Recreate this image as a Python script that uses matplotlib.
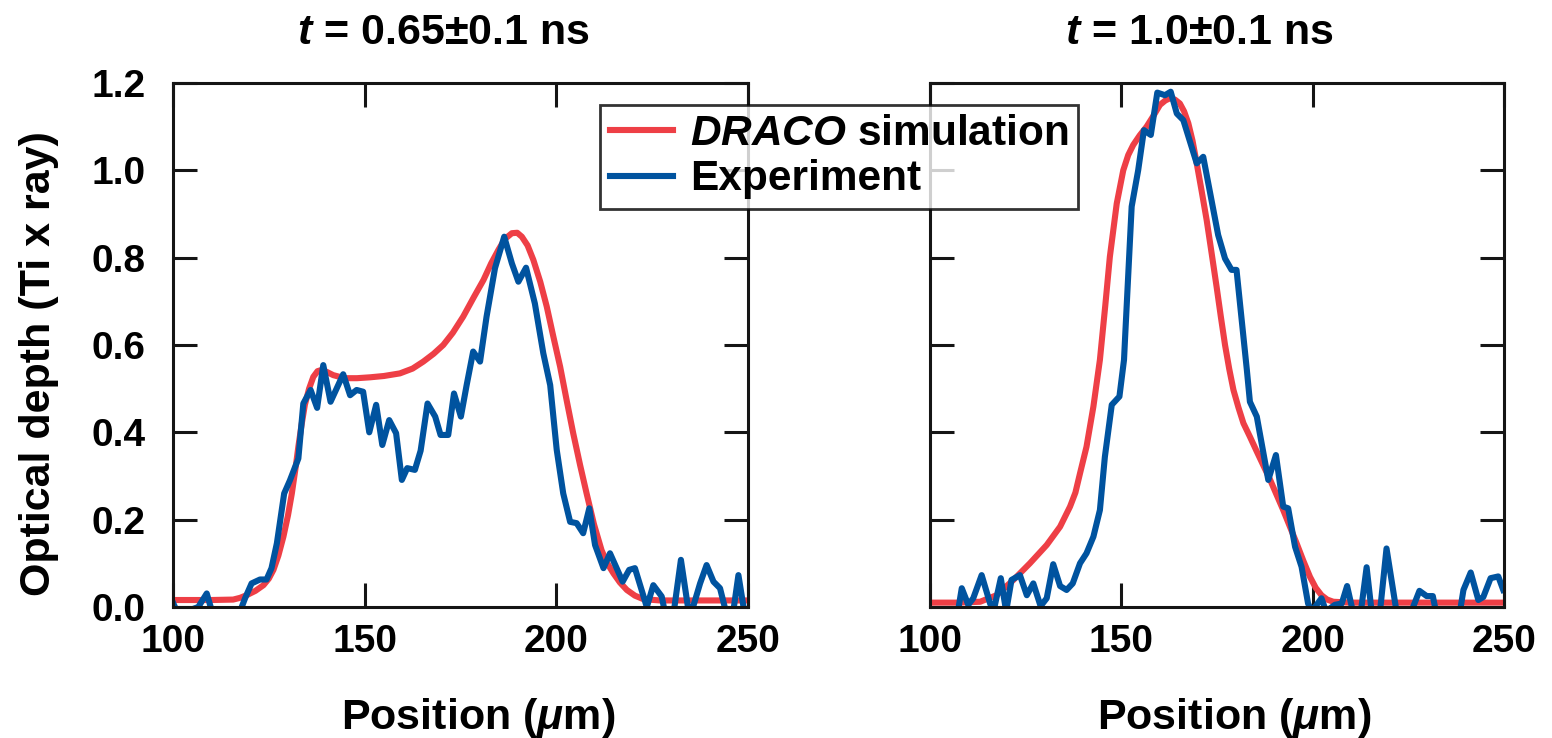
import matplotlib
matplotlib.use("Agg")
import matplotlib.pyplot as plt

# panel 1 : t = 0.65 ns
exp1_x = [100.0, 101.0, 103.5, 106.6, 108.8, 110.5, 113.0, 117.5, 118.8, 120.5,
          122.7, 124.4, 125.7, 127.1, 129.0, 130.5, 132.7, 134.0, 135.9, 137.6,
          139.2, 141.1, 144.4, 146.2, 147.9, 149.6, 151.2, 153.0, 154.6, 156.4,
          158.2, 159.7, 161.1, 163.1, 164.6, 166.4, 168.4, 169.8, 171.8, 173.3,
          175.1, 176.6, 178.3, 180.1, 181.8, 184.0, 186.4, 188.4, 190.1, 192.1,
          194.4, 196.6, 198.4, 200.1, 201.8, 203.6, 205.3, 207.0, 208.6, 210.1,
          212.3, 214.0, 217.3, 219.0, 220.5, 223.6, 225.3, 227.5, 228.5, 230.5,
          232.5, 234.5, 235.5, 237.5, 239.2, 241.0, 242.7, 244.5, 246.0, 247.5,
          249.2, 250.0]
exp1_y = [0.01, -0.01, -0.01, 0.0, 0.031, -0.02, -0.02, -0.01, 0.02, 0.054,
          0.063, 0.063, 0.089, 0.146, 0.26, 0.29, 0.34, 0.466, 0.497, 0.456,
          0.554, 0.47, 0.533, 0.485, 0.497, 0.493, 0.40, 0.463, 0.371, 0.428,
          0.398, 0.291, 0.318, 0.314, 0.358, 0.466, 0.436, 0.394, 0.394, 0.489,
          0.436, 0.508, 0.585, 0.562, 0.665, 0.776, 0.848, 0.787, 0.745, 0.777,
          0.695, 0.581, 0.508, 0.36, 0.26, 0.195, 0.192, 0.169, 0.226, 0.142,
          0.089, 0.123, 0.058, 0.085, 0.089, 0.0, 0.05, 0.024, -0.02, -0.02,
          0.108, -0.01, -0.005, 0.054, 0.096, 0.058, 0.043, -0.02, -0.02, 0.073,
          -0.02, -0.02]
sim1_x = [100, 105, 110, 115.7, 117.5, 119.2, 121.5, 123.6, 125.0, 126.2,
          127.5, 128.8, 130.0, 131.0, 132.0, 132.7, 133.5, 134.4, 135.5, 136.6,
          137.7, 138.8, 140.2, 141.8, 143.5, 145.3, 148.0, 151.4, 155.0, 159.2,
          162.5, 165.3, 168.0, 170.5, 173.0, 175.7, 178.5, 181.0, 183.0, 184.9,
          186.6, 188.4, 189.8, 191.0, 192.5, 194.0, 195.8, 197.5, 199.2, 201.0,
          202.7, 204.4, 206.2, 207.9, 209.8, 211.8, 213.3, 214.9, 216.6, 218.4,
          220.5, 222.7, 227.0, 235, 250]
sim1_y = [0.016, 0.016, 0.016, 0.017, 0.021, 0.027, 0.037, 0.05, 0.065, 0.085,
          0.118, 0.161, 0.21, 0.26, 0.32, 0.367, 0.415, 0.463, 0.5, 0.527,
          0.54, 0.543, 0.538, 0.531, 0.527, 0.524, 0.524, 0.526, 0.529, 0.535,
          0.546, 0.562, 0.58, 0.60, 0.628, 0.665, 0.71, 0.749, 0.787, 0.818,
          0.843, 0.856, 0.857, 0.848, 0.828, 0.795, 0.745, 0.688, 0.62, 0.55,
          0.473, 0.398, 0.325, 0.26, 0.19, 0.13, 0.1, 0.077, 0.056, 0.039,
          0.026, 0.018, 0.015, 0.015, 0.015]

# panel 2 : t = 1.0 ns
exp2_x = [100.0, 104.0, 107.4, 108.3, 110.0, 111.3, 113.5, 115.7, 116.6, 118.5,
          119.9, 121.3, 123.5, 125.3, 127.0, 128.9, 130.5, 132.2, 134.0, 135.7,
          137.3, 139.2, 140.9, 142.7, 144.4, 145.7, 147.5, 149.5, 150.7, 151.0,
          152.7, 154.4, 155.9, 157.7, 159.4, 161.4, 162.9, 164.5, 166.2, 169.7,
          171.4, 175.3, 177.1, 178.8, 180.1, 182.8, 183.6, 185.4, 188.4, 190.4,
          192.3, 193.6, 195.4, 197.1, 198.8, 199.8, 202.3, 203.5, 205.8, 207.6,
          209.0, 210.5, 212.6, 214.1, 215.4, 217.6, 219.3, 221.9, 225.8, 227.9,
          229.8, 231.4, 232.2, 238.5, 239.4, 241.3, 243.3, 244.6, 246.5, 248.5,
          249.8]
exp2_y = [-0.02, -0.02, -0.005, 0.043, 0.005, 0.02, 0.073, 0.008, -0.01, 0.066,
          -0.01, 0.062, 0.073, 0.027, 0.054, 0.002, 0.02, 0.098, 0.048, 0.039,
          0.054, 0.1, 0.123, 0.161, 0.222, 0.344, 0.463, 0.482, 0.566, 0.62,
          0.917, 1.0, 1.092, 1.081, 1.178, 1.172, 1.18, 1.13, 1.115, 1.016,
          1.031, 0.852, 0.798, 0.772, 0.772, 0.543, 0.47, 0.436, 0.291, 0.348,
          0.23, 0.226, 0.138, 0.092, 0.008, -0.01, 0.02, -0.01, 0.005, 0.008,
          0.048, -0.01, -0.01, 0.091, -0.01, -0.01, 0.134, -0.01, -0.01, 0.037,
          0.025, 0.025, -0.01, -0.01, 0.039, 0.079, 0.016, 0.023, 0.066, 0.07,
          0.039]
sim2_x = [100, 107, 113.1, 117.4, 121.8, 126.1, 130.5, 134.0, 136.6, 138.0,
          139.2, 140.9, 142.7, 144.4, 145.8, 147.0, 148.8, 150.5, 151.8, 153.1,
          154.8, 156.6, 158.4, 160.1, 161.5, 162.7, 164.0, 165.3, 166.4, 167.5,
          168.6, 169.7, 171.0, 172.3, 173.6, 174.9, 176.0, 177.1, 178.2, 179.3,
          180.6, 181.9, 183.6, 185.4, 188.9, 192.3, 195.8, 197.6, 199.3, 200.8,
          202.3, 203.8, 205.4, 210, 250]
sim2_y = [0.01, 0.01, 0.012, 0.027, 0.062, 0.1, 0.142, 0.184, 0.23, 0.262,
          0.306, 0.367, 0.459, 0.566, 0.69, 0.802, 0.924, 1.0, 1.035, 1.058,
          1.08, 1.1, 1.125, 1.15, 1.16, 1.165, 1.162, 1.153, 1.135, 1.108,
          1.068, 1.016, 0.952, 0.886, 0.81, 0.733, 0.665, 0.6, 0.545, 0.497,
          0.457, 0.421, 0.39, 0.356, 0.291, 0.222, 0.146, 0.105, 0.069, 0.044,
          0.027, 0.017, 0.012, 0.01, 0.01]

titles = [r'$t$ = 0.65±0.1 ns', r'$t$ = 1.0±0.1 ns']
xticks = [100, 150, 200, 250]
yticks = [0.0, 0.2, 0.4, 0.6, 0.8, 1.0, 1.2]

RED = '#ee3f46'
BLUE = '#00539f'
INK = '#151515'

plt.rcParams['font.family'] = ['Liberation Sans', 'DejaVu Sans']
plt.rcParams['font.weight'] = 'bold'
plt.rcParams['mathtext.fontset'] = 'custom'
plt.rcParams['mathtext.rm'] = 'Liberation Sans:bold'
plt.rcParams['mathtext.it'] = 'Liberation Sans:bold:italic'
plt.rcParams['mathtext.bf'] = 'Liberation Sans:bold'

fig = plt.figure(figsize=(15.52, 7.38), dpi=100)
ax1 = fig.add_axes([173/1552, 131/738, 575/1552, 524/738])
ax2 = fig.add_axes([930/1552, 131/738, 574/1552, 524/738])

data = [(exp1_x, exp1_y, sim1_x, sim1_y), (exp2_x, exp2_y, sim2_x, sim2_y)]
for i, ax in enumerate([ax1, ax2]):
    ex, ey, sx, sy = data[i]
    ax.plot(sx, sy, color=RED, lw=4.4, label=r'$DRACO$ simulation',
            solid_joinstyle='round')
    ax.plot(ex, ey, color=BLUE, lw=4.4, label='Experiment',
            solid_joinstyle='round')
    ax.set_xlim(100, 250)
    ax.set_ylim(0, 1.2)
    ax.set_xticks(xticks)
    ax.set_yticks(yticks)
    ax.tick_params(direction='in', length=17, width=2.2, top=True, right=True,
                   labelsize=28, color=INK)
    ax.tick_params(axis='x', pad=12)
    ax.tick_params(axis='y', pad=20)
    for sp in ax.spines.values():
        sp.set_linewidth(2.2)
        sp.set_color(INK)
    ax.set_title(titles[i], fontsize=31, fontweight='bold', pad=28, x=0.47)
    ax.set_xlabel(r'Position ($\mu$m)', fontsize=31, fontweight='bold')
    ax.xaxis.set_label_coords(0.53, -0.17)

ax1.set_yticklabels(['%.1f' % v for v in yticks])
ax2.set_yticklabels([])
ax1.set_ylabel('Optical depth (Ti x ray)', fontsize=31, fontweight='bold')
ax1.yaxis.set_label_coords(-0.198, 0.465)

h, l = ax1.get_legend_handles_labels()
leg = fig.legend(h, l, loc='upper center', bbox_to_anchor=(839/1552, 1 - 105/738),
                 fontsize=30.5, frameon=True, fancybox=False, edgecolor='black',
                 handlelength=1.5, handletextpad=0.4, borderpad=0.22,
                 labelspacing=0.12, borderaxespad=0)
leg.get_frame().set_linewidth(2.0)
for t in leg.get_texts():
    t.set_fontweight('bold')

fig.savefig('out.png', dpi=100)
